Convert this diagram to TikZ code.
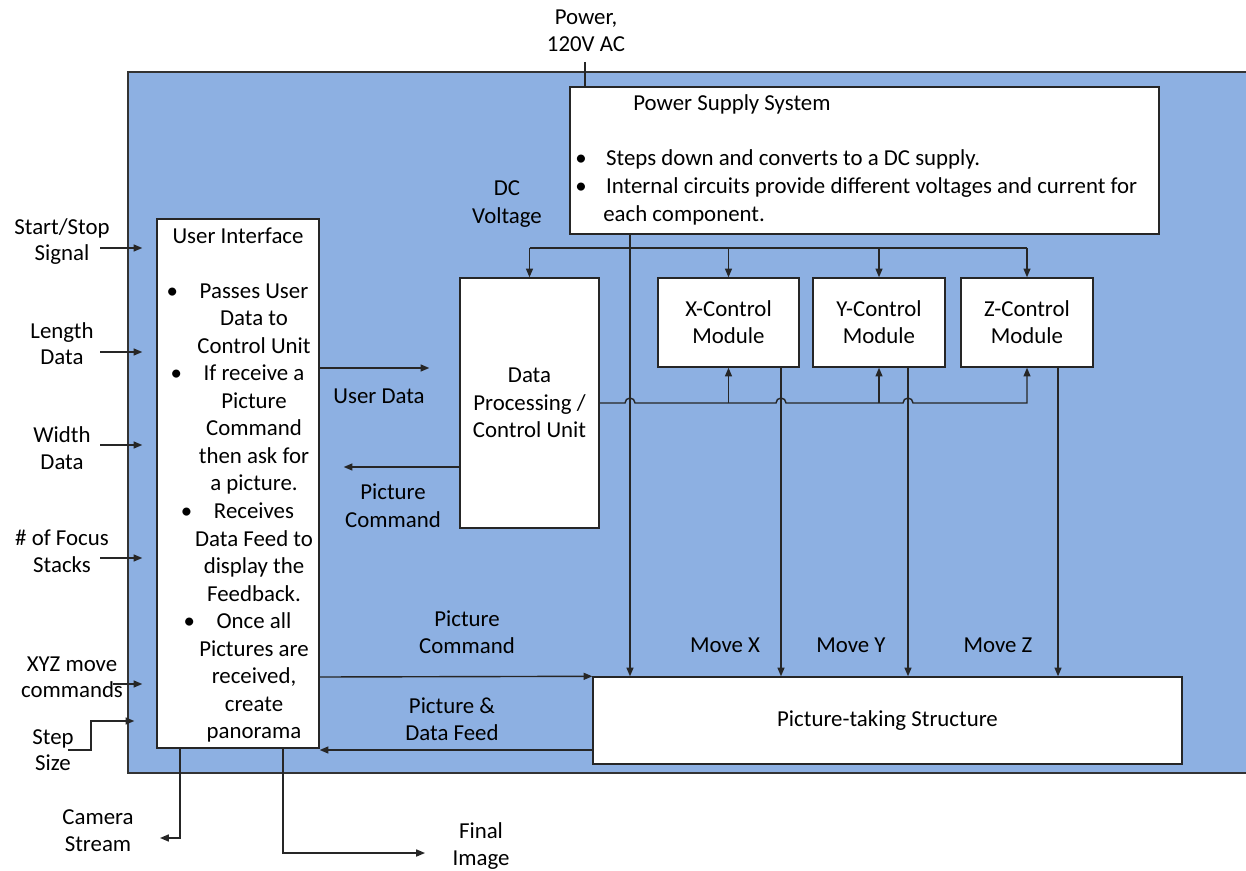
\documentclass[tikz,border=0pt]{standalone}
\usepackage{fontspec}
\setmainfont{Carlito}
\usetikzlibrary{arrows.meta}

\definecolor{panelblue}{RGB}{141,176,226}
\newcommand{\bul}{\textbullet\hspace{0.85em}}
\newcommand{\hbul}{\llap{\textbullet\hspace{0.95em}}}

\begin{document}
\begin{tikzpicture}[x=0.02cm, y=-0.02cm,
    box/.style={draw=black!85, fill=white, line width=0.8pt, inner sep=0pt},
    txt/.style={align=center, inner sep=0pt, font=\fontsize{13}{0.55cm}\selectfont},
    wire/.style={draw=black!85, line width=0.8pt},
    arr/.style={wire, -{Triangle[length=5pt, width=4pt]}}]
    \useasboundingbox (0,0) rectangle (1246,871);
    \fill[panelblue, draw=black!80, line width=0.8pt] (128,72) rectangle (1252,773);

    % blocks
    \node[box, minimum width=11.78cm, minimum height=2.94cm] (psu) at (864.5,160.5) {};
    \node[box, minimum width=3.24cm, minimum height=10.58cm] (ui) at (238,483.5) {};
    \node[box, minimum width=2.78cm, minimum height=5cm] (dpu) at (529.5,403) {};
    \node[box, minimum width=2.82cm, minimum height=1.78cm] (xc) at (728.5,322.5) {};
    \node[box, minimum width=2.64cm, minimum height=1.78cm] (yc) at (879,322.5) {};
    \node[box, minimum width=2.64cm, minimum height=1.78cm] (zc) at (1027,322.5) {};
    \node[box, minimum width=11.78cm, minimum height=1.74cm] (pts) at (887.5,720.5) {};

    % block texts
    \node[txt, anchor=west] (psuTitle) at (633,104) {Power Supply System};
    \node[txt, anchor=west] (psuB1) at (575,159) {\bul Steps down and converts to a DC supply.};
    \node[txt, anchor=west] (psuB2) at (575,188) {\bul Internal circuits provide different voltages and current for};
    \node[txt, anchor=west] (psuB3) at (603,215) {each component.};
    \node[txt] (uiTitle) at (238,236) {User Interface};
    \node[txt, font=\fontsize{13}{0.551cm}\selectfont] (uiText) at (254,513) {\hbul Passes User\\ Data to\\ Control Unit\\
        \hbul If receive a\\ Picture\\ Command\\ then ask for\\ a picture.\\
        \hbul Receives\\ Data Feed to\\ display the\\ Feedback.\\
        \hbul Once all\\ Pictures are\\ received,\\ create\\ panorama};
    \node[txt] (dpuText) at (529.5,403) {Data\\ Processing /\\ Control Unit};
    \node[txt, font=\fontsize{13}{0.54cm}\selectfont] (xcText) at (xc) {X-Control\\ Module};
    \node[txt, font=\fontsize{13}{0.54cm}\selectfont] (ycText) at (yc) {Y-Control\\ Module};
    \node[txt, font=\fontsize{13}{0.54cm}\selectfont] (zcText) at (zc) {Z-Control\\ Module};
    \node[txt] (ptsText) at (pts) {Picture-taking Structure};

    % outside labels
    \node[txt, font=\fontsize{13}{0.54cm}\selectfont] (pwr) at (586,31) {Power,\\ 120V AC};
    \node[txt] (dcv) at (507,204) {DC\\ Voltage};
    \node[txt, font=\fontsize{13}{0.52cm}\selectfont] (ssLbl) at (62,242) {Start/Stop\\ Signal};
    \node[txt, font=\fontsize{13}{0.52cm}\selectfont] (lenLbl) at (62,344) {Length\\ Data};
    \node[txt] (widLbl) at (62,448) {Width\\ Data};
    \node[txt] (focLbl) at (62,551) {\# of Focus\\ Stacks};
    \node[txt, font=\fontsize{13}{0.52cm}\selectfont] (xyzLbl) at (72,677) {XYZ move\\ commands};
    \node[txt, font=\fontsize{13}{0.52cm}\selectfont] (stepLbl) at (53,750) {Step\\ Size};
    \node[txt, font=\fontsize{13}{0.54cm}\selectfont] (camLbl) at (98,831) {Camera\\ Stream};
    \node[txt, font=\fontsize{13}{0.54cm}\selectfont] (finLbl) at (481,846) {Final\\ Image};
    \node[txt] (udLbl) at (379,396) {User Data};
    \node[txt, font=\fontsize{13}{0.56cm}\selectfont] (pc1Lbl) at (393,506) {Picture\\ Command};
    \node[txt, font=\fontsize{13}{0.54cm}\selectfont] (pc2Lbl) at (467,632) {Picture\\ Command};
    \node[txt, font=\fontsize{13}{0.54cm}\selectfont] (pdfLbl) at (452,719) {Picture \&\\ Data Feed};
    \node[txt] (mxLbl) at (725,645) {Move X};
    \node[txt] (myLbl) at (851,645) {Move Y};
    \node[txt] (mzLbl) at (998,645) {Move Z};

    % power and DC bus
    \coordinate (dcx) at (630,0);
    \coordinate (dcbus) at (630,248);
    \draw[wire] (585,62) -- (psu.north -| 585,0);
    \draw[arr] (psu.south -| dcx) -- (pts.north -| dcx);
    \draw[wire] (dpu.north |- dcbus) -- (zc.north |- dcbus);
    \foreach \n in {dpu,xc,yc,zc}
        \draw[arr] (\n.north |- dcbus) -- (\n.north);

    % control lines with hops
    \coordinate (xo) at (781,0);
    \coordinate (yo) at (908,0);
    \coordinate (zo) at (1058,0);
    \draw[arr] (dpu.east) -- (625,403) arc (180:360:5) -- (776,403) arc (180:360:5)
        -- (903,403) arc (180:360:5) -- (zc.south |- dpu.east) -- (zc.south);
    \draw[arr] (xc.south |- dpu.east) -- (xc.south);
    \draw[arr] (yc.south |- dpu.east) -- (yc.south);
    \foreach \o/\n in {xo/xc,yo/yc,zo/zc}
        \draw[arr] (\n.south -| \o) -- (pts.north -| \o);

    % inputs
    \foreach \y in {248,352,445,558}
        \draw[arr, shorten >=0.28cm] (100,\y) -- (ui.west |- 0,\y);
    \draw[arr, shorten >=0.28cm] (113,684) -- (ui.west |- 0,684);
    \draw[arr, shorten >=0.44cm] (68,750) -- (91,750) -- (91,721) -- (ui.west |- 0,721);

    % outputs
    \draw[arr] (ui.south -| 180,0) -- (180,838) -- (160,838);
    \draw[arr] (ui.south -| 283,0) -- (283,853) -- (425,853);

    % data paths
    \draw[arr, shorten >=0.6cm] (ui.east |- 0,368) -- (dpu.west |- 0,368);
    \draw[arr, shorten >=0.48cm] (dpu.west |- 0,467) -- (ui.east |- 0,467);
    \draw[arr] (ui.east |- 0,677) -- (pts.north west);
    \draw[arr] (pts.west |- 0,750) -- (ui.east |- 0,750);
\end{tikzpicture}
\end{document}
